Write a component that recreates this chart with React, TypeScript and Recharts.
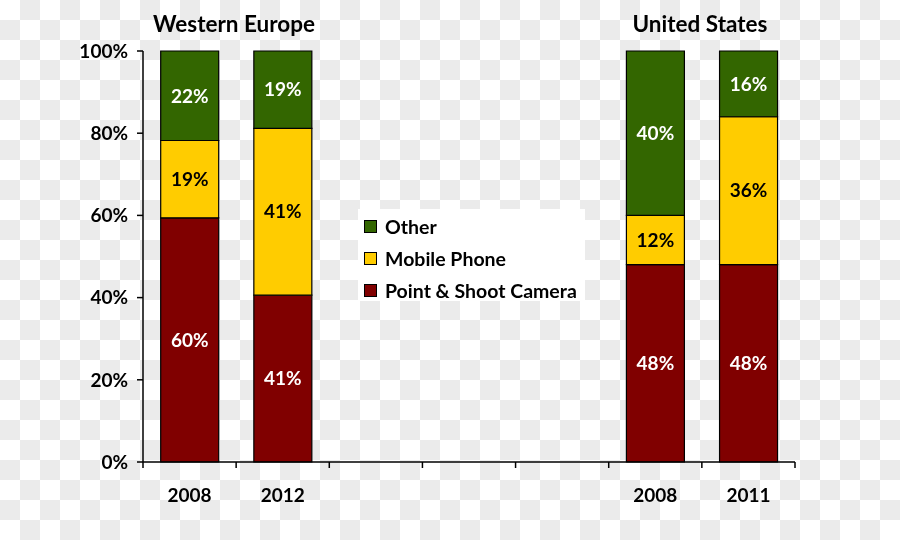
import { BarChart, Bar, XAxis, YAxis, LabelList } from 'recharts';

// seven slots on the axis: two for Western Europe, three empty, two for the US
const slots = ['we2008', 'we2012', 'gap1', 'gap2', 'gap3', 'us2008', 'us2011'];
const yearLabels = ['2008', '2012', '', '', '', '2008', '2011'];

// shares in percent, as printed on the bars (Excel normalised them to 100%)
const cameraValues = [60, 41, null, null, null, 48, 48];
const mobileValues = [19, 41, null, null, null, 12, 36];
const otherValues = [22, 19, null, null, null, 40, 16];

const yTicks = [0, 0.2, 0.4, 0.6, 0.8, 1];

const SERIES = [
  { key: 'other', name: 'Other', color: '#336600', text: '#ffffff' },
  { key: 'mobile', name: 'Mobile Phone', color: '#ffcc00', text: '#000000' },
  { key: 'camera', name: 'Point & Shoot Camera', color: '#800000', text: '#ffffff' },
];

const FONT = 'Lato, "Open Sans", sans-serif';
const MARGIN = { top: 51, right: 105, bottom: 48, left: 83 };
const Y_WIDTH = 60;
const BAND = (900 - MARGIN.left - MARGIN.right - Y_WIDTH) / slots.length;

const data = slots.map((slot, i) => ({
  slot,
  camera: cameraValues[i],
  mobile: mobileValues[i],
  other: otherValues[i],
}));

const pct = (v: any) => (v === null || v === undefined || v === 0 ? '' : `${v}%`);

// Excel puts the category ticks on the band edges, not the centres
const YearTick = (props: any) => {
  const { x, y, index } = props;
  const left = x - BAND / 2;
  const right = x + BAND / 2;
  return (
    <g>
      <line x1={left} x2={left} y1={y} y2={y + 6} stroke="#000" strokeWidth={1.5} />
      {index === slots.length - 1 && (
        <line x1={right} x2={right} y1={y} y2={y + 6} stroke="#000" strokeWidth={1.5} />
      )}
      <text
        x={x}
        y={y + 32}
        textAnchor="middle"
        dominantBaseline="central"
        fill="#000"
        fontSize={19}
        fontWeight={700}
        fontFamily={FONT}
      >
        {yearLabels[index]}
      </text>
    </g>
  );
};

const LegendBox = () => (
  <div
    style={{
      position: 'absolute',
      left: 358,
      top: 209,
      background: '#ffffff',
      width: 227,
      height: 92,
      padding: '1px 0 0 6px',
      boxSizing: 'border-box',
      fontFamily: FONT,
      fontWeight: 700,
      fontSize: 19.5,
      color: '#000',
      zIndex: 2,
    }}
  >
    {SERIES.map((s) => (
      <div key={s.key} style={{ display: 'flex', alignItems: 'center', height: 32 }}>
        <div
          style={{
            width: 11,
            height: 11,
            background: s.color,
            border: '1px solid #000',
            marginRight: 8,
          }}
        />
        <span>{s.name}</span>
      </div>
    ))}
  </div>
);

const titleStyle = {
  position: 'absolute' as const,
  top: 10,
  fontFamily: FONT,
  fontWeight: 700,
  fontSize: 22.5,
  color: '#000',
  transform: 'translateX(-50%)',
  whiteSpace: 'nowrap' as const,
};

const axisStroke = { stroke: '#000', strokeWidth: 1.5 };
const tickFont = { fill: '#000', fontSize: 19, fontWeight: 700, fontFamily: FONT };

export default function App() {
  return (
    <div
      style={{
        position: 'fixed',
        top: 0,
        left: 0,
        width: 900,
        height: 540,
        backgroundImage: 'repeating-conic-gradient(#ebebeb 0% 25%, #ffffff 0% 50%)',
        backgroundSize: '40px 40px',
      }}
    >
      <div style={{ ...titleStyle, left: 234 }}>Western Europe</div>
      <div style={{ ...titleStyle, left: 700 }}>United States</div>
      <LegendBox />
      <BarChart
        width={900}
        height={540}
        data={data}
        stackOffset="expand"
        barCategoryGap="19%"
        margin={MARGIN}
      >
        <XAxis
          dataKey="slot"
          height={30}
          tickSize={0}
          tickMargin={0}
          axisLine={axisStroke}
          tickLine={false}
          tick={<YearTick />}
          interval={0}
        />
        <YAxis
          width={Y_WIDTH}
          domain={[0, 1]}
          ticks={yTicks}
          tickFormatter={(v: number) => `${Math.round(v * 100)}%`}
          tickSize={6}
          tickMargin={9}
          axisLine={axisStroke}
          tickLine={axisStroke}
          tick={tickFont}
        />
        {[...SERIES].reverse().map((s) => (
          <Bar
            key={s.key}
            dataKey={s.key}
            name={s.name}
            stackId="share"
            fill={s.color}
            stroke="#000"
            strokeWidth={1.2}
            isAnimationActive={false}
          >
            <LabelList
              dataKey={s.key}
              position="center"
              formatter={pct}
              fill={s.text}
              style={{ fontSize: 19, fontWeight: 700, fontFamily: FONT }}
            />
          </Bar>
        ))}
      </BarChart>
    </div>
  );
}
